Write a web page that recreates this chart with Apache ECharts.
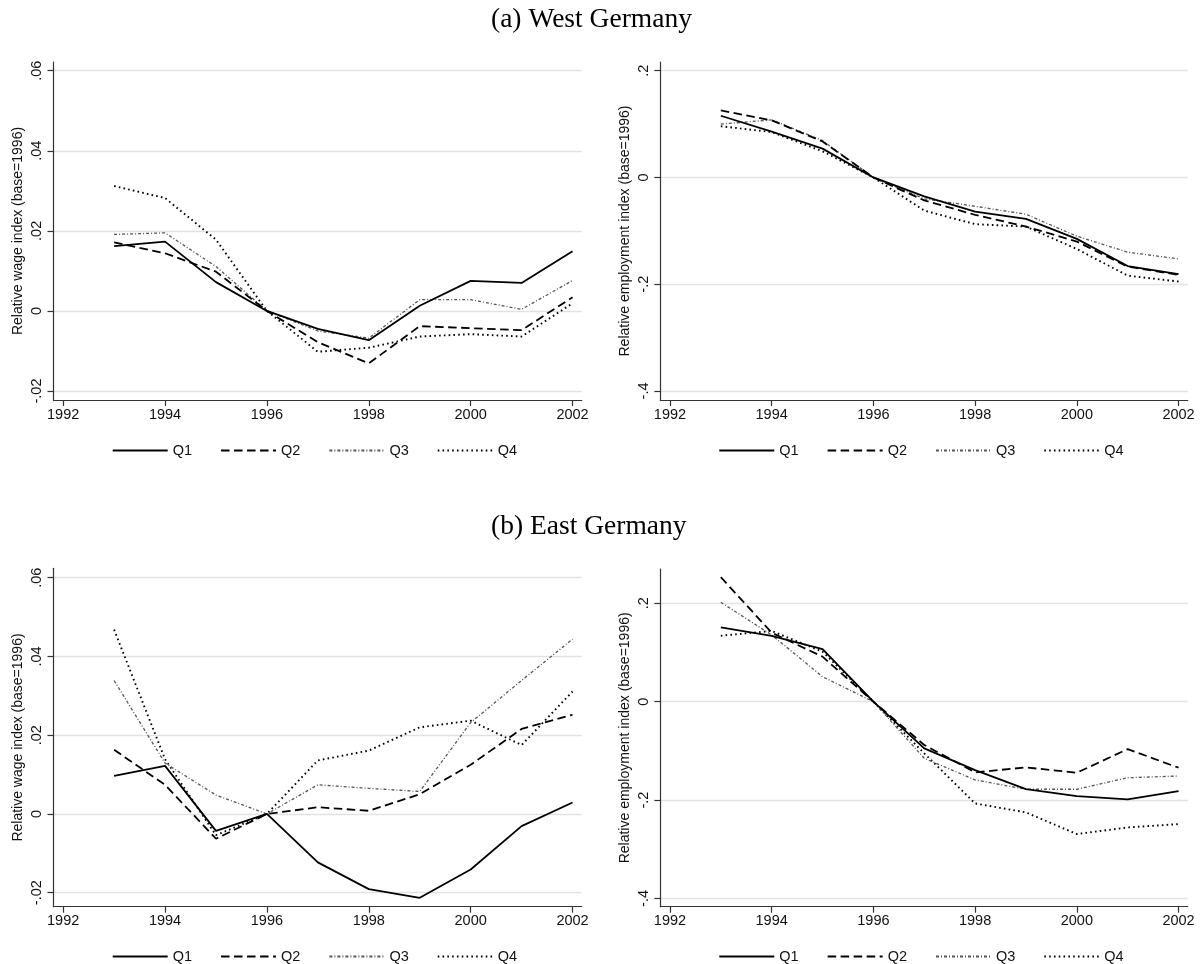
<!DOCTYPE html>
<html>
<head>
<meta charset="utf-8">
<script src="https://cdn.jsdelivr.net/npm/echarts@6/dist/echarts.min.js"></script>
<style>
html,body{margin:0;padding:0;background:#fff;}
#chart{width:1201px;height:964px;}
</style>
</head>
<body>
<div id="chart"></div>
<script>
// ---------- DATA ----------
const years = [1993, 1994, 1995, 1996, 1997, 1998, 1999, 2000, 2001, 2002];
const seriesNames = ['Q1', 'Q2', 'Q3', 'Q4'];
const xTicks = [1992, 1994, 1996, 1998, 2000, 2002];
const wageTicks = [-0.02, 0, 0.02, 0.04, 0.06];
const empTicks = [-0.4, -0.2, 0, 0.2];
const panelTitles = ['(a) West Germany', '(b) East Germany'];
const wageAxisName = 'Relative wage index (base=1996)';
const empAxisName = 'Relative employment index (base=1996)';

// (a) West Germany – wages
const westWageQ1 = [0.0162, 0.0173, 0.0072, 0, -0.0045, -0.0073, 0.0013, 0.0075, 0.0070, 0.0149];
const westWageQ2 = [0.0171, 0.0144, 0.0098, 0, -0.0078, -0.0131, -0.0038, -0.0043, -0.0048, 0.0034];
const westWageQ3 = [0.0191, 0.0195, 0.0111, 0, -0.0050, -0.0068, 0.0028, 0.0028, 0.0004, 0.0076];
const westWageQ4 = [0.0312, 0.0282, 0.0178, 0, -0.0102, -0.0092, -0.0064, -0.0058, -0.0064, 0.0019];
// (a) West Germany – employment
const westEmpQ1 = [0.1156, 0.086, 0.054, 0, -0.0356, -0.064, -0.0775, -0.115, -0.166, -0.181];
const westEmpQ2 = [0.1256, 0.107, 0.0675, 0, -0.043, -0.070, -0.092, -0.120, -0.167, -0.1825];
const westEmpQ3 = [0.100, 0.108, 0.069, 0, -0.040, -0.054, -0.069, -0.110, -0.140, -0.1525];
const westEmpQ4 = [0.096, 0.085, 0.049, 0, -0.062, -0.0875, -0.092, -0.134, -0.184, -0.195];
// (b) East Germany – wages
const eastWageQ1 = [0.0097, 0.0122, -0.0043, 0, -0.0123, -0.0191, -0.0213, -0.0141, -0.0031, 0.0029];
const eastWageQ2 = [0.0163, 0.0074, -0.0063, 0, 0.0017, 0.0008, 0.0050, 0.0125, 0.0216, 0.0252];
const eastWageQ3 = [0.0339, 0.0129, 0.0048, 0, 0.0074, 0.0065, 0.0057, 0.0232, 0.0339, 0.0444];
const eastWageQ4 = [0.0468, 0.0139, -0.0054, 0, 0.0136, 0.0161, 0.0220, 0.0237, 0.0175, 0.0311];
// (b) East Germany – employment
const eastEmpQ1 = [0.151, 0.1336, 0.107, 0, -0.095, -0.139, -0.1776, -0.192, -0.1986, -0.1817];
const eastEmpQ2 = [0.253, 0.1403, 0.0915, 0, -0.088, -0.1437, -0.1336, -0.1444, -0.0963, -0.1342];
const eastEmpQ3 = [0.202, 0.1356, 0.0508, 0, -0.115, -0.159, -0.178, -0.178, -0.1546, -0.151];
const eastEmpQ4 = [0.134, 0.1437, 0.1017, 0, -0.105, -0.2068, -0.225, -0.269, -0.2556, -0.2488];

// ---------- STYLE / LAYOUT ----------
const SANS = 'Liberation Sans, Arial, sans-serif';
const SERIF = 'Liberation Serif, Times New Roman, serif';
const lineStyles = [
  { color: '#000', width: 1.8, type: 'solid' },
  { color: '#000', width: 1.8, type: [8.5, 4.5] },
  { color: '#555', width: 1.3, type: [3, 2, 1, 2] },
  { color: '#000', width: 1.9, type: [1.6, 3.2] }
];
const panels = [
  { grid: { left: 53.5, top: 62, width: 528.2, height: 338 }, yMin: -0.02225, yMax: 0.06218, ticks: wageTicks, name: wageAxisName, data: [westWageQ1, westWageQ2, westWageQ3, westWageQ4], legendLeft: 111.7, legendTop: 443 },
  { grid: { left: 660.3, top: 62, width: 527.4, height: 338 }, yMin: -0.4169, yMax: 0.2163, ticks: empTicks, name: empAxisName, data: [westEmpQ1, westEmpQ2, westEmpQ3, westEmpQ4], legendLeft: 718.3, legendTop: 443 },
  { grid: { left: 53.5, top: 568.3, width: 528.2, height: 338.4 }, yMin: -0.02356, yMax: 0.0624, ticks: wageTicks, name: wageAxisName, data: [eastWageQ1, eastWageQ2, eastWageQ3, eastWageQ4], legendLeft: 111.7, legendTop: 949 },
  { grid: { left: 660.3, top: 569, width: 527.4, height: 337.7 }, yMin: -0.4167, yMax: 0.2697, ticks: empTicks, name: empAxisName, data: [eastEmpQ1, eastEmpQ2, eastEmpQ3, eastEmpQ4], legendLeft: 718.3, legendTop: 949 }
];

function fmt(v) {
  if (v === 0) return '0';
  return String(+v.toFixed(4)).replace('0.', '.');
}

const grids = [], xAxes = [], yAxes = [], series = [], legends = [];
panels.forEach((p, i) => {
  grids.push(Object.assign({ containLabel: false }, p.grid));
  xAxes.push({
    type: 'value', gridIndex: i, min: 1991.81, max: 2002.18,
    axisLine: { show: true, onZero: false, lineStyle: { color: '#333', width: 1.2 } },
    axisTick: { show: true, length: 6, customValues: xTicks, lineStyle: { color: '#333', width: 1.2 } },
    axisLabel: { customValues: xTicks, fontSize: 14.5, color: '#111', fontFamily: SANS, margin: 7, formatter: v => String(Math.round(v)) },
    splitLine: { show: false }
  });
  yAxes.push({
    type: 'value', gridIndex: i, min: p.yMin, max: p.yMax,
    name: p.name, nameLocation: 'middle', nameRotate: 90, nameGap: 28,
    nameTextStyle: { fontSize: 14, color: '#111', fontFamily: SANS },
    axisLine: { show: true, onZero: false, lineStyle: { color: '#333', width: 1.2 } },
    axisTick: { show: true, length: 6, customValues: p.ticks, lineStyle: { color: '#333', width: 1.2 } },
    axisLabel: { customValues: p.ticks, rotate: 90, fontSize: 14.5, color: '#111', fontFamily: SANS, margin: 9, formatter: fmt },
    splitLine: { show: true, lineStyle: { color: '#e2e2e2', width: 1.3 } }
  });
  p.data.forEach((vals, k) => {
    series.push({
      type: 'line', name: seriesNames[k], xAxisIndex: i, yAxisIndex: i,
      data: years.map((y, j) => [y, vals[j]]),
      symbol: 'none', showSymbol: false, silent: true, animation: false,
      lineStyle: lineStyles[k], itemStyle: { color: lineStyles[k].color },
      z: 10 - k
    });
  });
  legends.push({
    data: seriesNames, left: p.legendLeft, top: p.legendTop, padding: 0,
    itemWidth: 55, itemHeight: 14, itemGap: 28,
    itemStyle: { opacity: 0, color: 'rgba(0,0,0,0)', borderWidth: 0 },
    textStyle: { fontSize: 14.5, color: '#111', fontFamily: SANS },
    selectedMode: false
  });
});

const chart = echarts.init(document.getElementById('chart'), null, { renderer: 'canvas' });
chart.setOption({
  backgroundColor: '#fff',
  animation: false,
  title: [
    { text: panelTitles[0], left: 491, top: 6, padding: 0, textStyle: { fontFamily: SERIF, fontSize: 27.5, fontWeight: 'normal', color: '#000' } },
    { text: panelTitles[1], left: 491, top: 513, padding: 0, textStyle: { fontFamily: SERIF, fontSize: 27.5, fontWeight: 'normal', color: '#000' } }
  ],
  grid: grids,
  xAxis: xAxes,
  yAxis: yAxes,
  legend: legends,
  series: series
});
</script>
</body>
</html>
